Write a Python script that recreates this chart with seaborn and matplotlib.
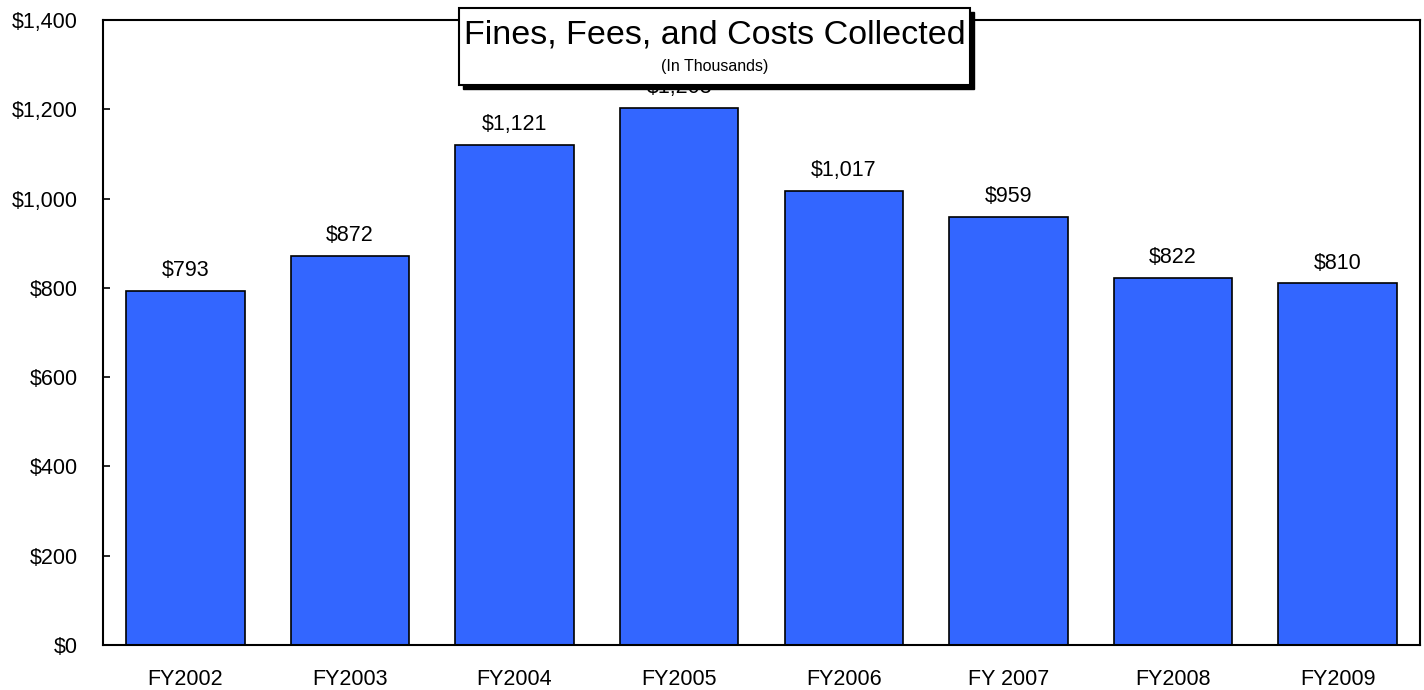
import seaborn as sns
import matplotlib
matplotlib.use("Agg")
import matplotlib.pyplot as plt
from matplotlib.patches import Rectangle
from matplotlib.ticker import FuncFormatter, MultipleLocator
import pandas as pd

years = ["FY2002", "FY2003", "FY2004", "FY2005", "FY2006", "FY 2007", "FY2008", "FY2009"]
collected = [793, 872, 1121, 1203, 1017, 959, 822, 810]

df = pd.DataFrame({"year": years, "collected": collected})

sns.set_style("white")
plt.rcParams['font.family'] = ['Liberation Sans', 'DejaVu Sans']

fig = plt.figure(figsize=(14.24, 6.9), dpi=100)
ax = fig.add_axes([103 / 1424, 1 - 645 / 690, 1317 / 1424, 625 / 690])

sns.barplot(data=df, x="year", y="collected", color="#3366FF", saturation=1,
            edgecolor="black", linewidth=1.2, width=0.72, ax=ax)

ax.set_xlim(-0.5, len(years) - 0.5)
ax.set_ylim(0, 1400)
ax.yaxis.set_major_locator(MultipleLocator(200))
ax.yaxis.set_major_formatter(FuncFormatter(lambda v, p: f"${v:,.0f}"))
ax.set_xlabel("")
ax.set_ylabel("")
ax.set_axisbelow(False)

for s in ax.spines.values():
    s.set_color("black")
    s.set_linewidth(1.5)

ax.set_xticks([i + 0.5 for i in range(len(years) - 1)], minor=True)
ax.tick_params(axis="x", which="major", direction="in", length=5, width=1.2,
               labelsize=15.5, pad=17, colors="black")
ax.tick_params(axis="x", which="minor", direction="in", length=6, width=1.2, colors="black")
ax.tick_params(axis="y", which="major", direction="in", length=5, width=1.2,
               labelsize=15.5, pad=18, left=True, colors="black")
for lbl in ax.get_xticklabels() + ax.get_yticklabels():
    lbl.set_color("black")

ax.bar_label(ax.containers[0], labels=[f"${v:,}" for v in collected],
             padding=7, fontsize=15.5, color="black")

# title box with drop shadow
x0, y0, w, h = 459 / 1424, 1 - 85 / 690, 511 / 1424, 77 / 690
fig.add_artist(Rectangle((x0 + 4 / 1424, y0 - 4 / 690), w, h, transform=fig.transFigure,
                         facecolor="black", edgecolor="black", zorder=10))
fig.add_artist(Rectangle((x0, y0), w, h, transform=fig.transFigure,
                         facecolor="white", edgecolor="black", linewidth=1.5, zorder=11))
fig.text(x0 + w / 2, 1 - 35 / 690, "Fines, Fees, and Costs Collected", ha="center", va="center",
         fontsize=24.5, color="black", zorder=12)
fig.text(x0 + w / 2, 1 - 66 / 690, "(In Thousands)", ha="center", va="center",
         fontsize=11.5, color="black", zorder=12)

fig.savefig("out.png", dpi=100, facecolor="white")
